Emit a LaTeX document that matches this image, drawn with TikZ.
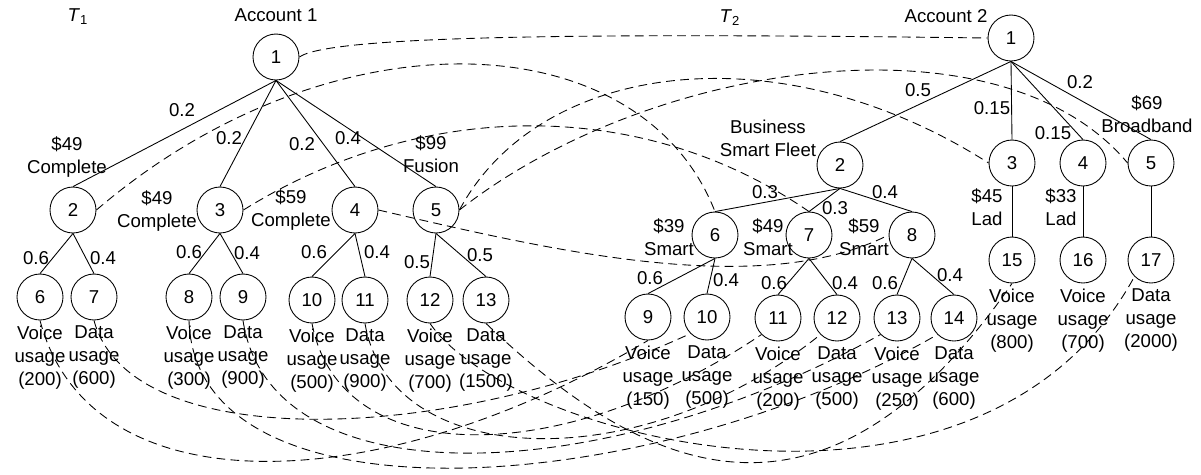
\documentclass[tikz,border=0pt]{standalone}
\usepackage{fontspec}
\setmainfont{Liberation Sans}
\usetikzlibrary{positioning}

\begin{document}
\begin{tikzpicture}[x=0.02cm, y=-0.02cm,
		font=\fontsize{10.6}{13}\selectfont,
		vert/.style={draw, circle, minimum size=0.92cm, inner sep=0pt, line width=0.5pt},
		txt/.style={align=center, inner sep=0pt},
		link/.style={line width=0.5pt, dash pattern=on 5pt off 3pt}]
	\useasboundingbox (0,0) rectangle (1201,474);

	% tree T1
	\node (tA) at (78,17) {\textit{T}\textsubscript{1}};
	\node (accA) at (276,15) {Account 1};
	\node[vert] (a1) at (276,57) {1};
	\foreach \n/\x in {2/73,3/220,4/355,5/436}
		{
			\node[vert] (a\n) at (\x,210) {\n};
			\draw[line width=0.5pt] (a1.south)--(a\n.north);
		}
	\foreach \n/\p/\x/\y/\w/\v in {6/2/40/297/Voice/200,7/2/94/297/Data/600,8/3/189/297/Voice/300,9/3/243/297/Data/900,10/4/312/300/Voice/500,11/4/365/300/Data/900,12/5/430/300/Voice/700,13/5/486/300/Data/1500}
		{
			\node[vert] (a\n) at (\x,\y) {\n};
			\draw[line width=0.5pt] (a\p.south)--(a\n.north);
			\node[txt, below=3pt of a\n] (ua\n) {\w\\usage\\(\v)};
		}

	% probabilities T1
	\foreach \t/\x/\y [count=\i] in {0.2/182/110,0.2/229/138,0.2/302/144,0.4/348/138,0.6/36/258,0.4/103/258,0.6/189/252,0.4/247/253,0.6/314/252,0.4/377/252,0.5/417/262,0.5/480/255}
		\node (wa\i) at (\x,\y) {\t};

	% plans T1
	\node[txt] (pa2) at (67,157) {\$49\\Complete};
	\node[txt] (pa3) at (157,211) {\$49\\Complete};
	\node[txt] (pa4) at (291,210) {\$59\\Complete};
	\node[txt] (pa5) at (431,154) {\$99\\Fusion};

	% tree T2
	\node (tB) at (730,18) {\textit{T}\textsubscript{2}};
	\node (accB) at (946,16) {Account 2};
	\node[vert] (b1) at (1011,38) {1};
	\foreach \n/\x/\y in {2/840/165,3/1012/163,4/1083/163,5/1151/163}
		{
			\node[vert] (b\n) at (\x,\y) {\n};
			\draw[line width=0.5pt] (b1.south)--(b\n.north);
		}
	\foreach \n/\x in {6/715,7/809,8/912}
		{
			\node[vert] (b\n) at (\x,235) {\n};
			\draw[line width=0.5pt] (b2.south)--(b\n.north);
		}
	\foreach \n/\p/\x/\y/\w/\v in {9/6/648/317/Voice/150,10/6/707/317/Data/500,11/7/778/318/Voice/200,12/7/837/318/Data/500,13/8/897/318/Voice/250,14/8/954/318/Data/600,15/3/1012/260/Voice/800,16/4/1083/260/Voice/700,17/5/1151/260/Data/2000}
		{
			\node[vert] (b\n) at (\x,\y) {\n};
			\draw[line width=0.5pt] (b\p.south)--(b\n.north);
			\node[txt, below=3pt of b\n] (ub\n) {\w\\usage\\(\v)};
		}

	% probabilities T2
	\foreach \t/\x/\y [count=\i] in {0.5/918/90,0.15/992/108,0.15/1053/133,0.2/1080/82,0.3/765/192,0.3/835/208,0.4/885/192,0.6/650/278,0.4/726/280,0.6/774/283,0.4/845/283,0.6/885/283,0.4/950/275}
		\node (wb\i) at (\x,\y) {\t};

	% plans T2
	\node[txt] (pb2) at (768,138) {Business\\Smart Fleet};
	\node[txt] (pb5) at (1147,114) {\$69\\Broadband};
	\node[txt] (pb6) at (669,237) {\$39\\Smart};
	\node[txt] (pb7) at (768,237) {\$49\\Smart};
	\node[txt] (pb8) at (864,237) {\$59\\Smart};
	\node[txt] (pb3) at (987,207) {\$45\\Lad};
	\node[txt] (pb4) at (1061,207) {\$33\\Lad};

	% matching, upper levels
	\draw[link] (a1.east) .. controls (330,35) and (600,33) .. (b1.west);
	\draw[link] (a2.east) .. controls (330,10) and (640,20) .. (b6.north);
	\draw[link] (a3.east) .. controls (420,100) and (640,95) .. (b7.north);
	\draw[link] (a4.east) .. controls (550,250) and (760,300) .. (b8.west);
	\draw[link] (a5.east) .. controls (540,60) and (780,30) .. (b3.west);
	\draw[link] (a5.east) .. controls (650,60) and (1000,10) .. (b5.west);

	% matching, leaves
	\draw[link] (a6.south) .. controls (90,510) and (380,500) .. (b9.south);
	\draw[link] (a7.south) .. controls (130,455) and (450,445) .. (b10.south west);
	\draw[link] (a8.south) .. controls (195,530) and (650,500) .. (b14.south west);
	\draw[link] (a9.south) .. controls (270,500) and (600,490) .. (b13.south west);
	\draw[link] (a10.south) .. controls (340,470) and (560,470) .. (b11.south west);
	\draw[link] (a11.south) .. controls (390,470) and (640,480) .. (b12.south west);
	\draw[link] (a12.south) .. controls (510,440) and (980,560) .. (b17.south west);
	\draw[link] (a13.south) .. controls (640,470) and (820,560) .. (b15.south);
\end{tikzpicture}
\end{document}
